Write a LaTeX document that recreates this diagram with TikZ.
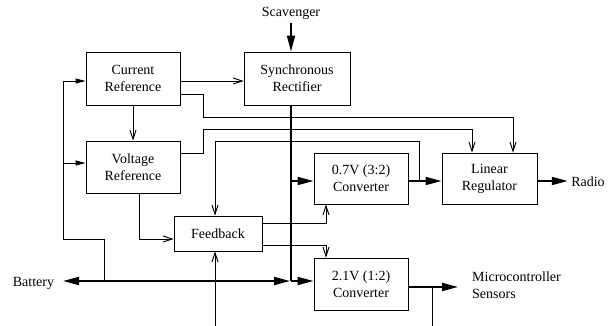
\documentclass[tikz,border=0pt]{standalone}
\usepackage{fontspec}
\setmainfont{Liberation Serif}
\usetikzlibrary{arrows.meta}
\tikzset{
  every node/.style={font=\fontsize{14}{17}\selectfont},
  box/.style={draw,line width=0.9pt,align=center,inner sep=0pt},
  thinline/.style={line width=0.9pt},
  thickline/.style={line width=1.8pt},
  openarrow/.style={thinline,-{Straight Barb[length=9pt,width=6pt]}},
  fillarrow/.style={thinline,-{Triangle[length=10pt,width=5pt]}},
  bigarrow/.style={thickline,-{Triangle[length=16pt,width=8pt]}},
}
\begin{document}
\begin{tikzpicture}[x=1pt,y=-1pt]
\useasboundingbox (0,0) rectangle (611,326);
% boxes
\node[box,minimum width=94pt,minimum height=53pt] (cur) at (133,78.5) {Current\\Reference};
\node[box,minimum width=106pt,minimum height=53pt] (sync) at (297,78.5) {Synchronous\\Rectifier};
\node[box,minimum width=94pt,minimum height=52pt] (volt) at (133,167) {Voltage\\Reference};
\node[box,minimum width=88pt,minimum height=35pt] (fb) at (218,233.5) {Feedback};
\node[box,minimum width=94pt,minimum height=51pt] (c07) at (361,178.5) {0.7V (3:2)\\Converter};
\node[box,minimum width=95pt,minimum height=51pt] (lin) at (489.5,178.5) {Linear\\Regulator};
\node[box,minimum width=94pt,minimum height=52pt] (c21) at (361,284) {2.1V (1:2)\\Converter};
% labels
\node (scav) at (291,13) {Scavenger};
\node (radio) at (588,182) {Radio};
\node (batt) at (33.5,283) {Battery};
\node[anchor=west,align=left,inner sep=0pt] (micro) at (472,285) {Microcontroller\\Sensors};
% coordinates
\coordinate (bj) at (291,281);
\coordinate (bl) at (63,281);
\coordinate (lj) at (104,281);
\coordinate (yA) at (0,181);
\coordinate (yM) at (0,287);
\coordinate (m1) at (458,287);
\coordinate (k1) at (432,287);
\coordinate (k2) at (432,326);
\coordinate (l1) at (63,81);
\coordinate (l2) at (63,163);
\coordinate (l3) at (63,239);
\coordinate (l4) at (104,239);
\coordinate (r1) at (203,94);
\coordinate (r2) at (203,117);
\coordinate (r3) at (513,117);
\coordinate (v1) at (203,153);
\coordinate (v2) at (203,129);
\coordinate (v3) at (472,129);
\coordinate (f1) at (419,181);
\coordinate (f2) at (419,141);
\coordinate (f3) at (215,141);
\coordinate (g1) at (139,239);
\coordinate (h1) at (326,223);
\coordinate (h2) at (326,245);
\coordinate (b1) at (215,326);
% thick power paths
\draw[bigarrow] (scav.south) -- (scav.south |- sync.north);
\draw[thickline] (bj |- sync.south) -- (bj);
\draw[thickline,{Triangle[length=16pt,width=8pt]}-{Triangle[length=16pt,width=8pt]},shorten >=1pt] (bl) -- (bj);
\draw[bigarrow] (bj |- yA) -- (c07.west |- yA);
\draw[bigarrow] (bj) -- (bj -| c21.west);
\draw[bigarrow] (c07.east |- yA) -- (lin.west |- yA);
\draw[bigarrow] (lin.east |- yA) -- (radio.west |- yA);
\draw[bigarrow] (c21.east |- yM) -- (m1);
\draw[thinline] (k1) -- (k2);
% thin control paths
\draw[thinline] (lj) -- (l4) -- (l3) -- (l1);
\draw[fillarrow] (l1) -- (l1 -| cur.west);
\draw[fillarrow] (l2) -- (l2 -| volt.west);
\draw[openarrow] (l1 -| cur.east) -- (l1 -| sync.west);
\draw[openarrow] (cur.south) -- (volt.north);
\draw[openarrow] (r1 -| cur.east) -- (r1) -- (r2) -- (r3) -- (r3 |- lin.north);
\draw[openarrow] (v1 -| volt.east) -- (v1) -- (v2) -- (v3) -- (v3 |- lin.north);
\draw[openarrow] (f1) -- (f2) -- (f3) -- (f3 |- fb.north);
\draw[openarrow] (g1 |- volt.south) -- (g1) -- (g1 -| fb.west);
\draw[openarrow] (h1 -| fb.east) -- (h1) -- (h1 |- c07.south);
\draw[openarrow] (h2 -| fb.east) -- (h2) -- (h2 |- c21.north);
\draw[openarrow] (b1) -- (b1 |- fb.south);
\end{tikzpicture}
\end{document}
